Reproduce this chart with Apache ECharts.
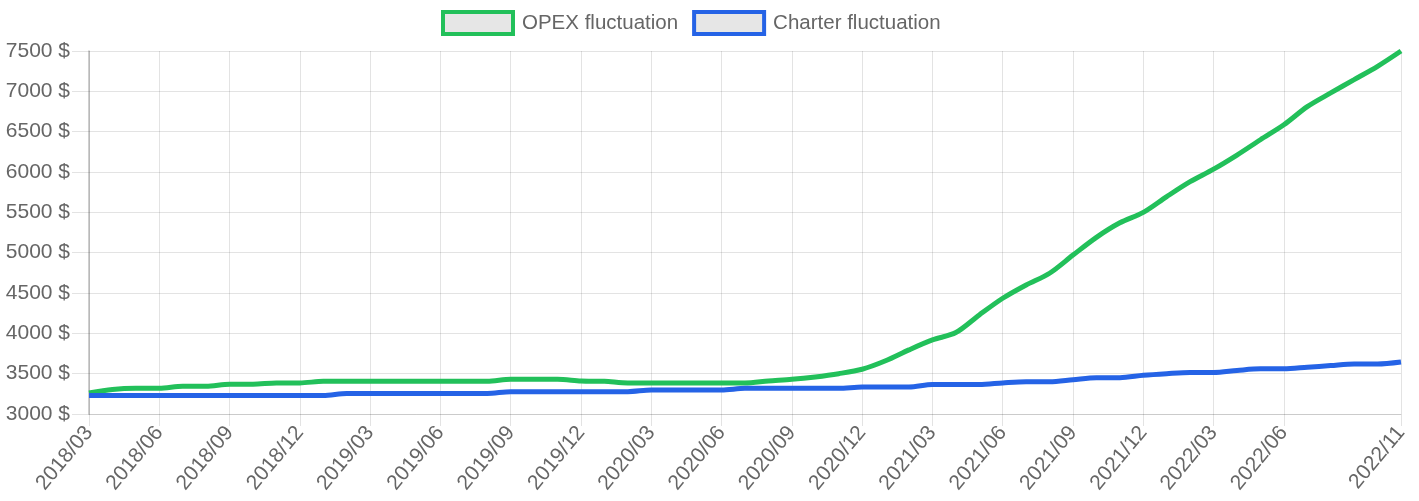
<!DOCTYPE html>
<html lang="en">
<head>
    <meta charset="UTF-8">
    <title>OPEX / Charter fluctuation</title>
    <script type="text/javascript" src="https://cdn.jsdelivr.net/npm/echarts@6/dist/echarts.min.js"></script>
    <style>
        html, body{
            margin: 0;
            padding: 0;
            background: #fff;
        }
        #chart{
            width: 1419px;
            height: 501px;
        }
    </style>
</head>
<body>
    <div id="chart"></div>
</body>
<script>
    // months 2018/03 .. 2022/11
    var months = [
        "2018/03","2018/04","2018/05","2018/06","2018/07","2018/08","2018/09","2018/10","2018/11","2018/12",
        "2019/01","2019/02","2019/03","2019/04","2019/05","2019/06","2019/07","2019/08","2019/09","2019/10","2019/11","2019/12",
        "2020/01","2020/02","2020/03","2020/04","2020/05","2020/06","2020/07","2020/08","2020/09","2020/10","2020/11","2020/12",
        "2021/01","2021/02","2021/03","2021/04","2021/05","2021/06","2021/07","2021/08","2021/09","2021/10","2021/11","2021/12",
        "2022/01","2022/02","2022/03","2022/04","2022/05","2022/06","2022/07","2022/08","2022/09","2022/10","2022/11"
    ];
    var opex = [
        3260,3305,3320,3320,3345,3345,3370,3370,3385,3385,
        3405,3405,3405,3405,3405,3405,3405,3405,3430,3430,3430,3410,
        3405,3385,3385,3385,3385,3385,3385,3410,3430,3460,3500,3555,
        3660,3795,3918,4010,4228,4435,4600,4745,4970,5190,5370,5500,
        5695,5880,6035,6210,6400,6585,6810,6980,7145,7310,7500
    ];
    var charter = [
        3230,3230,3230,3230,3230,3230,3230,3230,3230,3230,
        3230,3255,3255,3255,3255,3255,3255,3255,3277,3277,3277,3277,
        3277,3277,3298,3298,3298,3298,3318,3318,3318,3318,3318,3335,
        3335,3335,3365,3365,3365,3385,3400,3400,3425,3450,3450,3480,
        3500,3515,3515,3540,3560,3560,3580,3600,3620,3620,3645
    ];
    var seriesNames = ["OPEX fluctuation", "Charter fluctuation"];
    var colors = ["#22c05a", "#2563e6"];

    var textColor = "#666";
    var gridColor = "rgba(0,0,0,0.11)";
    var fontFamily = "'Liberation Sans', Arial, Helvetica, sans-serif";

    // which month labels are shown (every 3rd, plus the last one)
    function shown(i){
        return (i % 3 === 0 && i < 54) || i === months.length - 1;
    }

    var chart = echarts.init(document.getElementById("chart"));
    var option = {
        animation: false,
        legend: {
            top: 5,
            left: 436,
            itemWidth: 70,
            itemHeight: 22,
            itemGap: 14,
            icon: "rect",
            textStyle: {
                color: textColor,
                fontSize: 20.5,
                fontFamily: fontFamily,
                padding: [0, 0, 0, 4]
            },
            data: seriesNames.map(function(n, i){
                return {
                    name: n,
                    itemStyle: { color: "#e6e6e6", borderColor: colors[i], borderWidth: 4 }
                };
            })
        },
        grid: {
            left: 89,
            right: 18,
            top: 51,
            bottom: 87
        },
        xAxis: {
            type: "category",
            data: months,
            boundaryGap: false,
            axisLine: { lineStyle: { color: gridColor, width: 1 } },
            axisTick: {
                show: true,
                length: 12,
                interval: function(i){ return shown(i); },
                lineStyle: { color: gridColor }
            },
            splitLine: {
                show: true,
                interval: function(i){ return shown(i); },
                lineStyle: { color: gridColor, width: 1 }
            },
            axisLabel: {
                interval: function(i){ return shown(i); },
                rotate: 50,
                margin: 15,
                color: textColor,
                fontSize: 21,
                fontFamily: fontFamily
            }
        },
        yAxis: {
            type: "value",
            min: 3000,
            max: 7500,
            interval: 500,
            axisLine: { show: true, lineStyle: { color: "rgba(0,0,0,0.25)", width: 1.5 } },
            axisTick: { show: true, length: 17, lineStyle: { color: gridColor } },
            splitLine: { lineStyle: { color: gridColor, width: 1 } },
            axisLabel: {
                formatter: function(v){ return v + " $"; },
                margin: 19,
                color: textColor,
                fontSize: 21,
                fontFamily: fontFamily
            }
        },
        series: [
            {
                name: seriesNames[0],
                type: "line",
                data: opex,
                smooth: 0.3,
                symbol: "none",
                itemStyle: { color: "#e6e6e6", borderColor: colors[0] },
                lineStyle: { color: colors[0], width: 5 }
            },
            {
                name: seriesNames[1],
                type: "line",
                data: charter,
                smooth: 0.3,
                symbol: "none",
                itemStyle: { color: "#e6e6e6", borderColor: colors[1] },
                lineStyle: { color: colors[1], width: 5 }
            }
        ]
    };
    chart.setOption(option);
</script>
</html>
